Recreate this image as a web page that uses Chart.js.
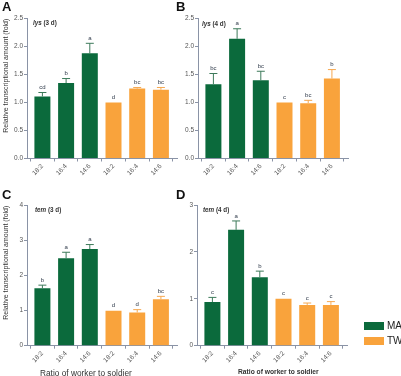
<!DOCTYPE html>
<html>
<head>
<meta charset="utf-8">
<script src="https://cdn.jsdelivr.net/npm/chart.js@4/dist/chart.umd.min.js"></script>
<style>
  html, body { margin: 0; padding: 0; background: #fff; }
  #fig { position: relative; width: 401px; height: 376px; overflow: hidden; font-family: "Liberation Sans", Arial, sans-serif; }
  .pane { position: absolute; }
  .letter { position: absolute; font-weight: bold; font-size: 13px; color: #111; line-height: 1; }
  .gene { position: absolute; font-size: 6.3px; font-weight: bold; color: #333; line-height: 1; white-space: nowrap; }
  .xt { position: absolute; color: #333; line-height: 1; white-space: nowrap; }
  .lg-box { position: absolute; width: 20px; height: 8px; }
  .lg-txt { position: absolute; font-size: 10px; color: #222; line-height: 1; }
</style>
</head>
<body>
<div id="fig">
  <div class="pane" style="left:0;top:0"><canvas id="cA" width="190" height="185"></canvas></div>
  <div class="pane" style="left:180px;top:0"><canvas id="cB" width="200" height="185"></canvas></div>
  <div class="pane" style="left:0;top:185px"><canvas id="cC" width="190" height="191"></canvas></div>
  <div class="pane" style="left:180px;top:185px"><canvas id="cD" width="200" height="191"></canvas></div>

  <div class="letter" style="left:2px;top:0px">A</div>
  <div class="letter" style="left:176px;top:0px">B</div>
  <div class="letter" style="left:2px;top:188px">C</div>
  <div class="letter" style="left:176px;top:188px">D</div>

  <div class="gene" style="left:33px;top:20px"><i>lys</i> (3 d)</div>
  <div class="gene" style="left:202px;top:21px"><i>lys</i> (4 d)</div>
  <div class="gene" style="left:35px;top:207px"><i>tem</i> (3 d)</div>
  <div class="gene" style="left:203px;top:207px"><i>tem</i> (4 d)</div>

  <div class="xt" style="left:40px;top:369px;font-size:8.3px">Ratio of worker to soldier</div>
  <div class="xt" style="left:238px;top:369px;font-size:6.7px;font-weight:bold">Ratio of worker to soldier</div>

  <div class="lg-box" style="left:364px;top:322px;background:#0b6a3c"></div>
  <div class="lg-box" style="left:364px;top:337px;background:#f9a33c"></div>
  <div class="lg-txt" style="left:387px;top:321px">MA</div>
  <div class="lg-txt" style="left:387px;top:336px">TW</div>
</div>
<script>
// ---- data ----
const ratios = ['18:2', '16:4', '14:6'];
const seriesNames = ['MA', 'TW'];

const lys3dMA = [1.11, 1.35, 1.88];
const lys3dMAErr = [0.07, 0.08, 0.18];
const lys3dMALetters = ['cd', 'b', 'a'];
const lys3dTW = [1.00, 1.25, 1.23];
const lys3dTWErr = [0.00, 0.02, 0.04];
const lys3dTWLetters = ['d', 'bc', 'bc'];

const lys4dMA = [1.33, 2.14, 1.40];
const lys4dMAErr = [0.19, 0.18, 0.16];
const lys4dMALetters = ['bc', 'a', 'bc'];
const lys4dTW = [1.00, 0.99, 1.43];
const lys4dTWErr = [0.00, 0.05, 0.16];
const lys4dTWLetters = ['c', 'bc', 'b'];

const tem3dMA = [1.64, 2.50, 2.76];
const tem3dMAErr = [0.09, 0.17, 0.13];
const tem3dMALetters = ['b', 'a', 'a'];
const tem3dTW = [1.00, 0.95, 1.33];
const tem3dTWErr = [0.00, 0.08, 0.08];
const tem3dTWLetters = ['d', 'd', 'bc'];

const tem4dMA = [0.93, 2.47, 1.46];
const tem4dMAErr = [0.10, 0.19, 0.13];
const tem4dMALetters = ['c', 'a', 'b'];
const tem4dTW = [1.00, 0.87, 0.87];
const tem4dTWErr = [0.00, 0.04, 0.07];
const tem4dTWLetters = ['c', 'c', 'c'];

const yTicksLys = [0, 0.5, 1.0, 1.5, 2.0, 2.5];
const yTicksTem3 = [0, 1, 2, 3, 4];
const yTicksTem4 = [0, 1, 2, 3];
const yTitle = 'Relative transcriptional amount (fold)';

// ---- styles ----
const GREEN = '#0b6a3c', ORANGE = '#f9a33c';
const GREEN_ERR = '#3d7a5a', ORANGE_ERR = '#f6a850';
const AXIS = '#8a93a6', TICKTXT = '#555';
const FONT = '"Liberation Sans", Arial, sans-serif';
const xLabels = ratios.concat(ratios);

const errPlugin = {
  id: 'errbars',
  afterDatasetsDraw(chart) {
    const ctx = chart.ctx, ys = chart.scales.y;
    chart.data.datasets.forEach((ds, di) => {
      const meta = chart.getDatasetMeta(di);
      meta.data.forEach((bar, i) => {
        const v = ds.data[i].y, e = ds.errors[i];
        const yTop = ys.getPixelForValue(v + e);
        ctx.save();
        ctx.strokeStyle = ds.errColor; ctx.lineWidth = 1;
        if (e > 0) {
          ctx.beginPath();
          ctx.moveTo(bar.x, bar.y); ctx.lineTo(bar.x, yTop);
          ctx.moveTo(bar.x - 4, yTop); ctx.lineTo(bar.x + 4, yTop);
          ctx.stroke();
        }
        ctx.fillStyle = '#2f3a4a';
        ctx.font = '6px ' + FONT;
        ctx.textAlign = 'center'; ctx.textBaseline = 'bottom';
        ctx.fillText(ds.letters[i], bar.x, yTop - 2);
        ctx.restore();
      });
    });
  }
};

function makeChart(id, cfg) {
  const mk = (vals, off) => vals.map((v, i) => ({ x: i + off, y: v }));
  new Chart(document.getElementById(id), {
    type: 'bar',
    data: {
      datasets: [
        { label: seriesNames[0], data: mk(cfg.ma, 0), errors: cfg.maErr, letters: cfg.maL,
          backgroundColor: GREEN, errColor: GREEN_ERR },
        { label: seriesNames[1], data: mk(cfg.tw, 3), errors: cfg.twErr, letters: cfg.twL,
          backgroundColor: ORANGE, errColor: ORANGE_ERR }
      ]
    },
    options: {
      responsive: false, animation: false, devicePixelRatio: 1,
      grouped: false, categoryPercentage: 1, barPercentage: 0.675,
      layout: { padding: { left: 0, top: cfg.padTop, right: cfg.padRight, bottom: 0 } },
      plugins: { legend: { display: false }, tooltip: { enabled: false } },
      scales: {
        x: {
          type: 'linear', min: -0.65, max: 5.7, offset: false,
          afterBuildTicks: s => { s.ticks = xLabels.map((_, i) => ({ value: i })); },
          afterFit: s => { s.height = cfg.xHeight; },
          ticks: { callback: v => xLabels[v], minRotation: 45, maxRotation: 45, autoSkip: false,
                   font: { size: 6.5, family: FONT }, color: TICKTXT, padding: 1 },
          grid: { drawOnChartArea: false, drawTicks: true, tickLength: 3, color: AXIS },
          border: { color: AXIS, width: 1 }
        },
        y: {
          min: 0, max: cfg.yTicks[cfg.yTicks.length - 1],
          afterBuildTicks: s => { s.ticks = cfg.yTicks.map(v => ({ value: v })); },
          afterFit: s => { s.width = cfg.yWidth; },
          ticks: { callback: v => cfg.dec ? v.toFixed(1) : String(v),
                   font: { size: 6.5, family: FONT }, color: TICKTXT, padding: 1 },
          grid: { drawOnChartArea: false, drawTicks: true, tickLength: 3, color: AXIS },
          border: { color: AXIS, width: 1 },
          title: { display: !!cfg.yTitle, text: yTitle, align: 'end',
                   font: { size: 7, family: FONT }, color: '#333', padding: { top: 2, bottom: 0 } }
        }
      }
    },
    plugins: [errPlugin]
  });
}

makeChart('cA', { ma: lys3dMA, maErr: lys3dMAErr, maL: lys3dMALetters,
  tw: lys3dTW, twErr: lys3dTWErr, twL: lys3dTWLetters, yTicks: yTicksLys, dec: true,
  yTitle: true, yWidth: 27, padTop: 18.7, padRight: 12.5, xHeight: 26.5 });
makeChart('cB', { ma: lys4dMA, maErr: lys4dMAErr, maL: lys4dMALetters,
  tw: lys4dTW, twErr: lys4dTWErr, twL: lys4dTWLetters, yTicks: yTicksLys, dec: true,
  yTitle: false, yWidth: 18, padTop: 18.7, padRight: 31.5, xHeight: 26.5 });
makeChart('cC', { ma: tem3dMA, maErr: tem3dMAErr, maL: tem3dMALetters,
  tw: tem3dTW, twErr: tem3dTWErr, twL: tem3dTWLetters, yTicks: yTicksTem3, dec: false,
  yTitle: true, yWidth: 27, padTop: 20.7, padRight: 12.5, xHeight: 30.3 });
makeChart('cD', { ma: tem4dMA, maErr: tem4dMAErr, maL: tem4dMALetters,
  tw: tem4dTW, twErr: tem4dTWErr, twL: tem4dTWLetters, yTicks: yTicksTem4, dec: false,
  yTitle: false, yWidth: 17, padTop: 20, padRight: 32.5, xHeight: 30.3 });
</script>
</body>
</html>
